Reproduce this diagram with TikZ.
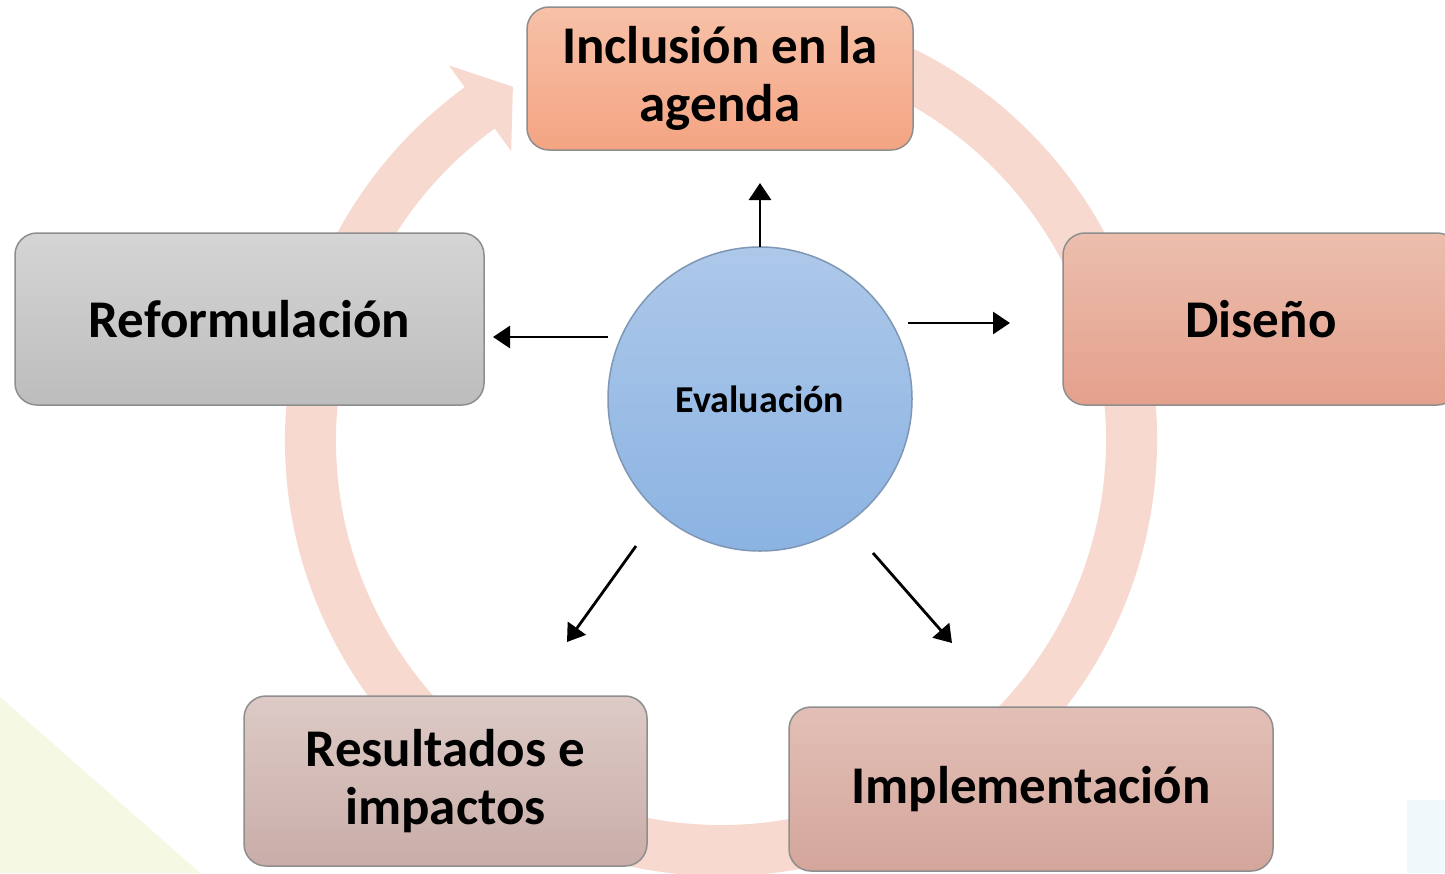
\documentclass[tikz,border=0pt]{standalone}
\usepackage{fontspec}
\setmainfont{Carlito}
\usetikzlibrary{arrows.meta}
\definecolor{ringc}{HTML}{F7D9CF}
\definecolor{incT}{HTML}{F7C1A8}
\definecolor{incB}{HTML}{F4A482}
\definecolor{refT}{HTML}{D5D5D5}
\definecolor{refB}{HTML}{BDBDBD}
\definecolor{disT}{HTML}{ECBEAD}
\definecolor{disB}{HTML}{E4A08C}
\definecolor{resT}{HTML}{DDCAC6}
\definecolor{resB}{HTML}{C9ADA8}
\definecolor{impT}{HTML}{E2BFB6}
\definecolor{impB}{HTML}{D4A69B}
\definecolor{evT}{HTML}{ADC8E9}
\definecolor{evB}{HTML}{8BB3E2}
\definecolor{boxline}{HTML}{8E8E8E}
\definecolor{evline}{HTML}{7F97B5}
\definecolor{yelbg}{HTML}{F5F8E2}
\definecolor{bluebg}{HTML}{F1F8FC}
\tikzset{
  stage/.style={draw=boxline, line width=1.5pt, rounded corners=22pt, inner sep=0pt,
    align=center, font=\fontsize{53}{58}\selectfont\bfseries},
  evalnode/.style={circle, draw=evline, line width=1.5pt, minimum size=304pt, inner sep=0pt,
    top color=evT, bottom color=evB, font=\fontsize{38}{42}\selectfont\bfseries},
  conn/.style={line width=2.8pt, -{Triangle[length=17pt,width=22pt]}}
}
\begin{document}
\begin{tikzpicture}[x=1pt,y=-1pt]
\clip (0,0) rectangle (1445,873);
\fill[white] (0,0) rectangle (1445,873);
% background decorations
\fill[yelbg] (0,697) -- (200,873) -- (0,873) -- cycle;
\fill[bluebg] (1407,800) rectangle (1445,873);
% ring with arrow
\begin{scope}[shift={(721,440)}, yscale=-1]
\fill[ringc] (80:436) arc[start angle=80, end angle=-234, radius=436]
  -- (-234:463) -- (-239.5:410) -- (-234:357) -- (-234:385)
  arc[start angle=-234, end angle=80, radius=385] -- cycle;
\end{scope}
% stages
\node[stage, top color=incT, bottom color=incB, minimum width=386pt, minimum height=143pt]
  (inc) at (720,78.5) {Inclusión en la\\agenda};
\node[stage, top color=refT, bottom color=refB, minimum width=469pt, minimum height=172pt]
  (ref) at (249.5,319) {Reformulación};
\node[stage, top color=disT, bottom color=disB, minimum width=396pt, minimum height=172pt]
  (dis) at (1261,319) {Diseño};
\node[stage, top color=resT, bottom color=resB, minimum width=403pt, minimum height=170pt]
  (res) at (445.5,781) {Resultados e\\impactos};
\node[stage, top color=impT, bottom color=impB, minimum width=484pt, minimum height=164pt]
  (imp) at (1031,789) {Implementación};
% center
\node[evalnode] (ev) at (760,399) {\raisebox{-3pt}{Evaluación}};
% arrows
\coordinate (s1) at (760,247);  \coordinate (e1) at (760,183);
\coordinate (s2) at (908,323);  \coordinate (e2) at (1010,323);
\coordinate (s3) at (608,337);  \coordinate (e3) at (493,337);
\coordinate (s4) at (636,546);  \coordinate (e4) at (567,642);
\coordinate (s5) at (873,553);  \coordinate (e5) at (952,643);
\draw[conn] (s1) -- (e1);
\draw[conn] (s2) -- (e2);
\draw[conn] (s3) -- (e3);
\draw[conn] (s4) -- (e4);
\draw[conn] (s5) -- (e5);
\end{tikzpicture}
\end{document}
